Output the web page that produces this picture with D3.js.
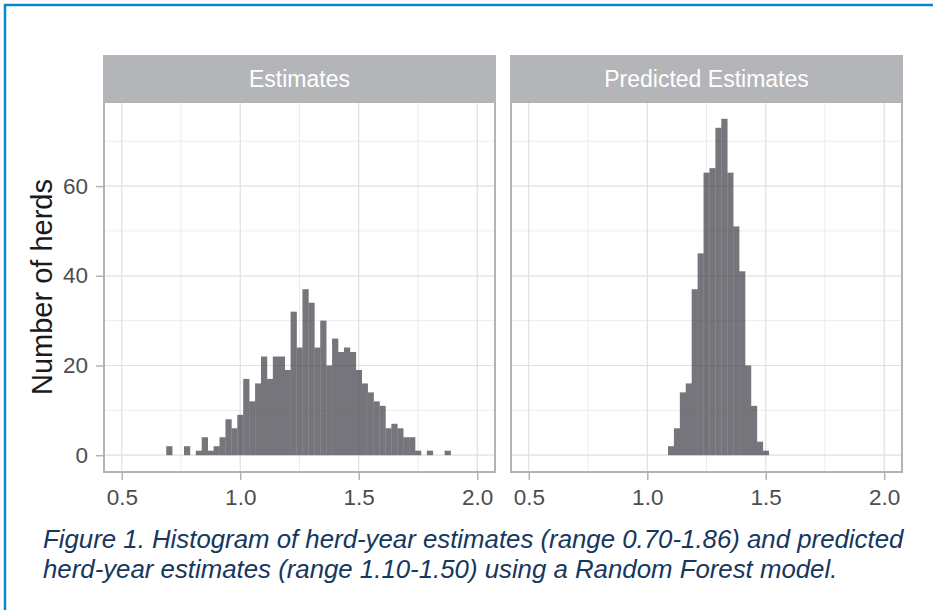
<!DOCTYPE html>
<html>
<head>
<meta charset="utf-8">
<script src="https://cdn.jsdelivr.net/npm/d3@7"></script>
<style>
  body { margin: 0; background: #fff; }
  svg text { font-family: "Liberation Sans", Arial, sans-serif; }
</style>
</head>
<body>
<svg id="svg1"></svg>
<script>
// bin centres (binwidth 0.025) and counts
const estCenters = [0.700, 0.725, 0.750, 0.775, 0.800, 0.825, 0.850, 0.875, 0.900, 0.925,
  0.950, 0.975, 1.000, 1.025, 1.050, 1.075, 1.100, 1.125, 1.150, 1.175,
  1.200, 1.225, 1.250, 1.275, 1.300, 1.325, 1.350, 1.375, 1.400, 1.425,
  1.450, 1.475, 1.500, 1.525, 1.550, 1.575, 1.600, 1.625, 1.650, 1.675,
  1.700, 1.725, 1.750, 1.775, 1.800, 1.825, 1.850, 1.875];
const estCounts = [2, 0, 0, 2, 0, 1, 4, 1, 2, 4,
  8, 6, 9, 17, 12, 16, 22, 17, 22, 22,
  19, 32, 24, 37, 34, 24, 30, 20, 26, 23,
  24, 23, 19, 16, 14, 12, 11, 6, 7, 6,
  4, 4, 1, 0, 1, 0, 0, 1];

const predCenters = [1.100, 1.125, 1.150, 1.175, 1.200, 1.225, 1.250, 1.275, 1.300,
  1.325, 1.350, 1.375, 1.400, 1.425, 1.450, 1.475, 1.500];
const predCounts = [2, 6, 14, 16, 37, 45, 63, 64, 73, 75, 63, 51, 41, 20, 11, 3, 1];

const panelTitles = ["Estimates", "Predicted Estimates"];
const xTicks = [0.5, 1.0, 1.5, 2.0];
const xMinor = [0.75, 1.25, 1.75];
const yTicks = [0, 20, 40, 60];
const yMinor = [10, 30, 50, 70];
const yLabel = "Number of herds";
const captionLines = [
  "Figure 1. Histogram of herd-year estimates (range 0.70-1.86) and predicted",
  "herd-year estimates (range 1.10-1.50) using a Random Forest model."
];

const binWidth = 0.025;
const W = 933, H = 610;
const panelTop = 102, panelBottom = 472;
const stripTop = 55;
const panelX = [[104, 495], [511, 902]];

const svg = d3.select("#svg1")
    .attr("width", W)
    .attr("height", H);

// outer blue frame (cropped on right and bottom)
svg.append("rect")
    .attr("x", 5).attr("y", 5)
    .attr("width", W + 20).attr("height", H + 20)
    .attr("fill", "none")
    .attr("stroke", "#0a86d1")
    .attr("stroke-width", 2.5);

const yScale = d3.scaleLinear()
    .domain([-3.75, 78.75])
    .range([panelBottom, panelTop]);

const panels = [
  { centers: estCenters, counts: estCounts },
  { centers: predCenters, counts: predCounts }
];

panels.forEach(function(p, i) {
  const x0 = panelX[i][0], x1 = panelX[i][1];
  const xScale = d3.scaleLinear()
      .domain([0.425, 2.075])
      .range([x0, x1]);

  const g = svg.append("g");

  // minor grid
  g.selectAll(".xminor").data(xMinor).enter().append("line")
      .attr("x1", d => xScale(d)).attr("x2", d => xScale(d))
      .attr("y1", panelTop).attr("y2", panelBottom)
      .attr("stroke", "#ececec").attr("stroke-width", 1);
  g.selectAll(".yminor").data(yMinor).enter().append("line")
      .attr("x1", x0).attr("x2", x1)
      .attr("y1", d => yScale(d)).attr("y2", d => yScale(d))
      .attr("stroke", "#ececec").attr("stroke-width", 1);
  // major grid
  g.selectAll(".xmajor").data(xTicks).enter().append("line")
      .attr("x1", d => xScale(d)).attr("x2", d => xScale(d))
      .attr("y1", panelTop).attr("y2", panelBottom)
      .attr("stroke", "#e0e0e0").attr("stroke-width", 1.2);
  g.selectAll(".ymajor").data(yTicks).enter().append("line")
      .attr("x1", x0).attr("x2", x1)
      .attr("y1", d => yScale(d)).attr("y2", d => yScale(d))
      .attr("stroke", "#e0e0e0").attr("stroke-width", 1.2);

  // bars
  const data = p.centers.map((c, k) => ({ c: c, n: p.counts[k] })).filter(d => d.n > 0);
  g.append("g")
      .attr("opacity", 0.7)
    .selectAll(".bar").data(data).enter().append("rect")
      .attr("x", d => xScale(d.c - binWidth / 2))
      .attr("width", d => xScale(d.c + binWidth / 2) - xScale(d.c - binWidth / 2) + 0.3)
      .attr("y", d => yScale(d.n))
      .attr("height", d => yScale(0) - yScale(d.n))
      .attr("fill", "#3c3c44");

  // panel border
  g.append("rect")
      .attr("x", x0).attr("y", panelTop)
      .attr("width", x1 - x0).attr("height", panelBottom - panelTop)
      .attr("fill", "none")
      .attr("stroke", "#b3b3b3")
      .attr("stroke-width", 2);

  // strip
  g.append("rect")
      .attr("x", x0 - 1).attr("y", stripTop)
      .attr("width", x1 - x0 + 2).attr("height", panelTop - stripTop - 1)
      .attr("fill", "#b4b5b8");
  g.append("text")
      .attr("x", (x0 + x1) / 2).attr("y", 87)
      .attr("text-anchor", "middle")
      .attr("fill", "#ffffff")
      .attr("font-size", 23)
      .text(panelTitles[i]);

  // x axis
  const xAxis = g.append("g")
      .attr("transform", `translate(0, ${panelBottom + 1})`)
      .call(d3.axisBottom(xScale).tickValues(xTicks).tickFormat(d3.format(".1f")).tickSize(7).tickPadding(9));
  xAxis.select(".domain").remove();
  xAxis.selectAll("line").attr("stroke", "#b3b3b3").attr("stroke-width", 1.5);
  xAxis.selectAll("text").attr("fill", "#4d4d4d").attr("font-size", 22.5);

  if (i === 0) {
    const yAxis = g.append("g")
        .attr("transform", `translate(${x0 - 1}, 0)`)
        .call(d3.axisLeft(yScale).tickValues(yTicks).tickSize(7).tickPadding(8));
    yAxis.select(".domain").remove();
    yAxis.selectAll("line").attr("stroke", "#b3b3b3").attr("stroke-width", 1.5);
    yAxis.selectAll("text").attr("fill", "#4d4d4d").attr("font-size", 22.5);
  }
});

// y title
svg.append("text")
    .attr("transform", `translate(52, ${(panelTop + panelBottom) / 2}) rotate(-90)`)
    .attr("text-anchor", "middle")
    .attr("fill", "#1a1a1a")
    .attr("font-size", 29)
    .text(yLabel);

// caption
svg.selectAll(".caption").data(captionLines).enter().append("text")
    .attr("x", 43)
    .attr("y", (d, k) => 548 + k * 30)
    .attr("fill", "#16375e")
    .attr("font-size", 25.8)
    .attr("font-style", "italic")
    .text(d => d);
</script>
</body>
</html>
